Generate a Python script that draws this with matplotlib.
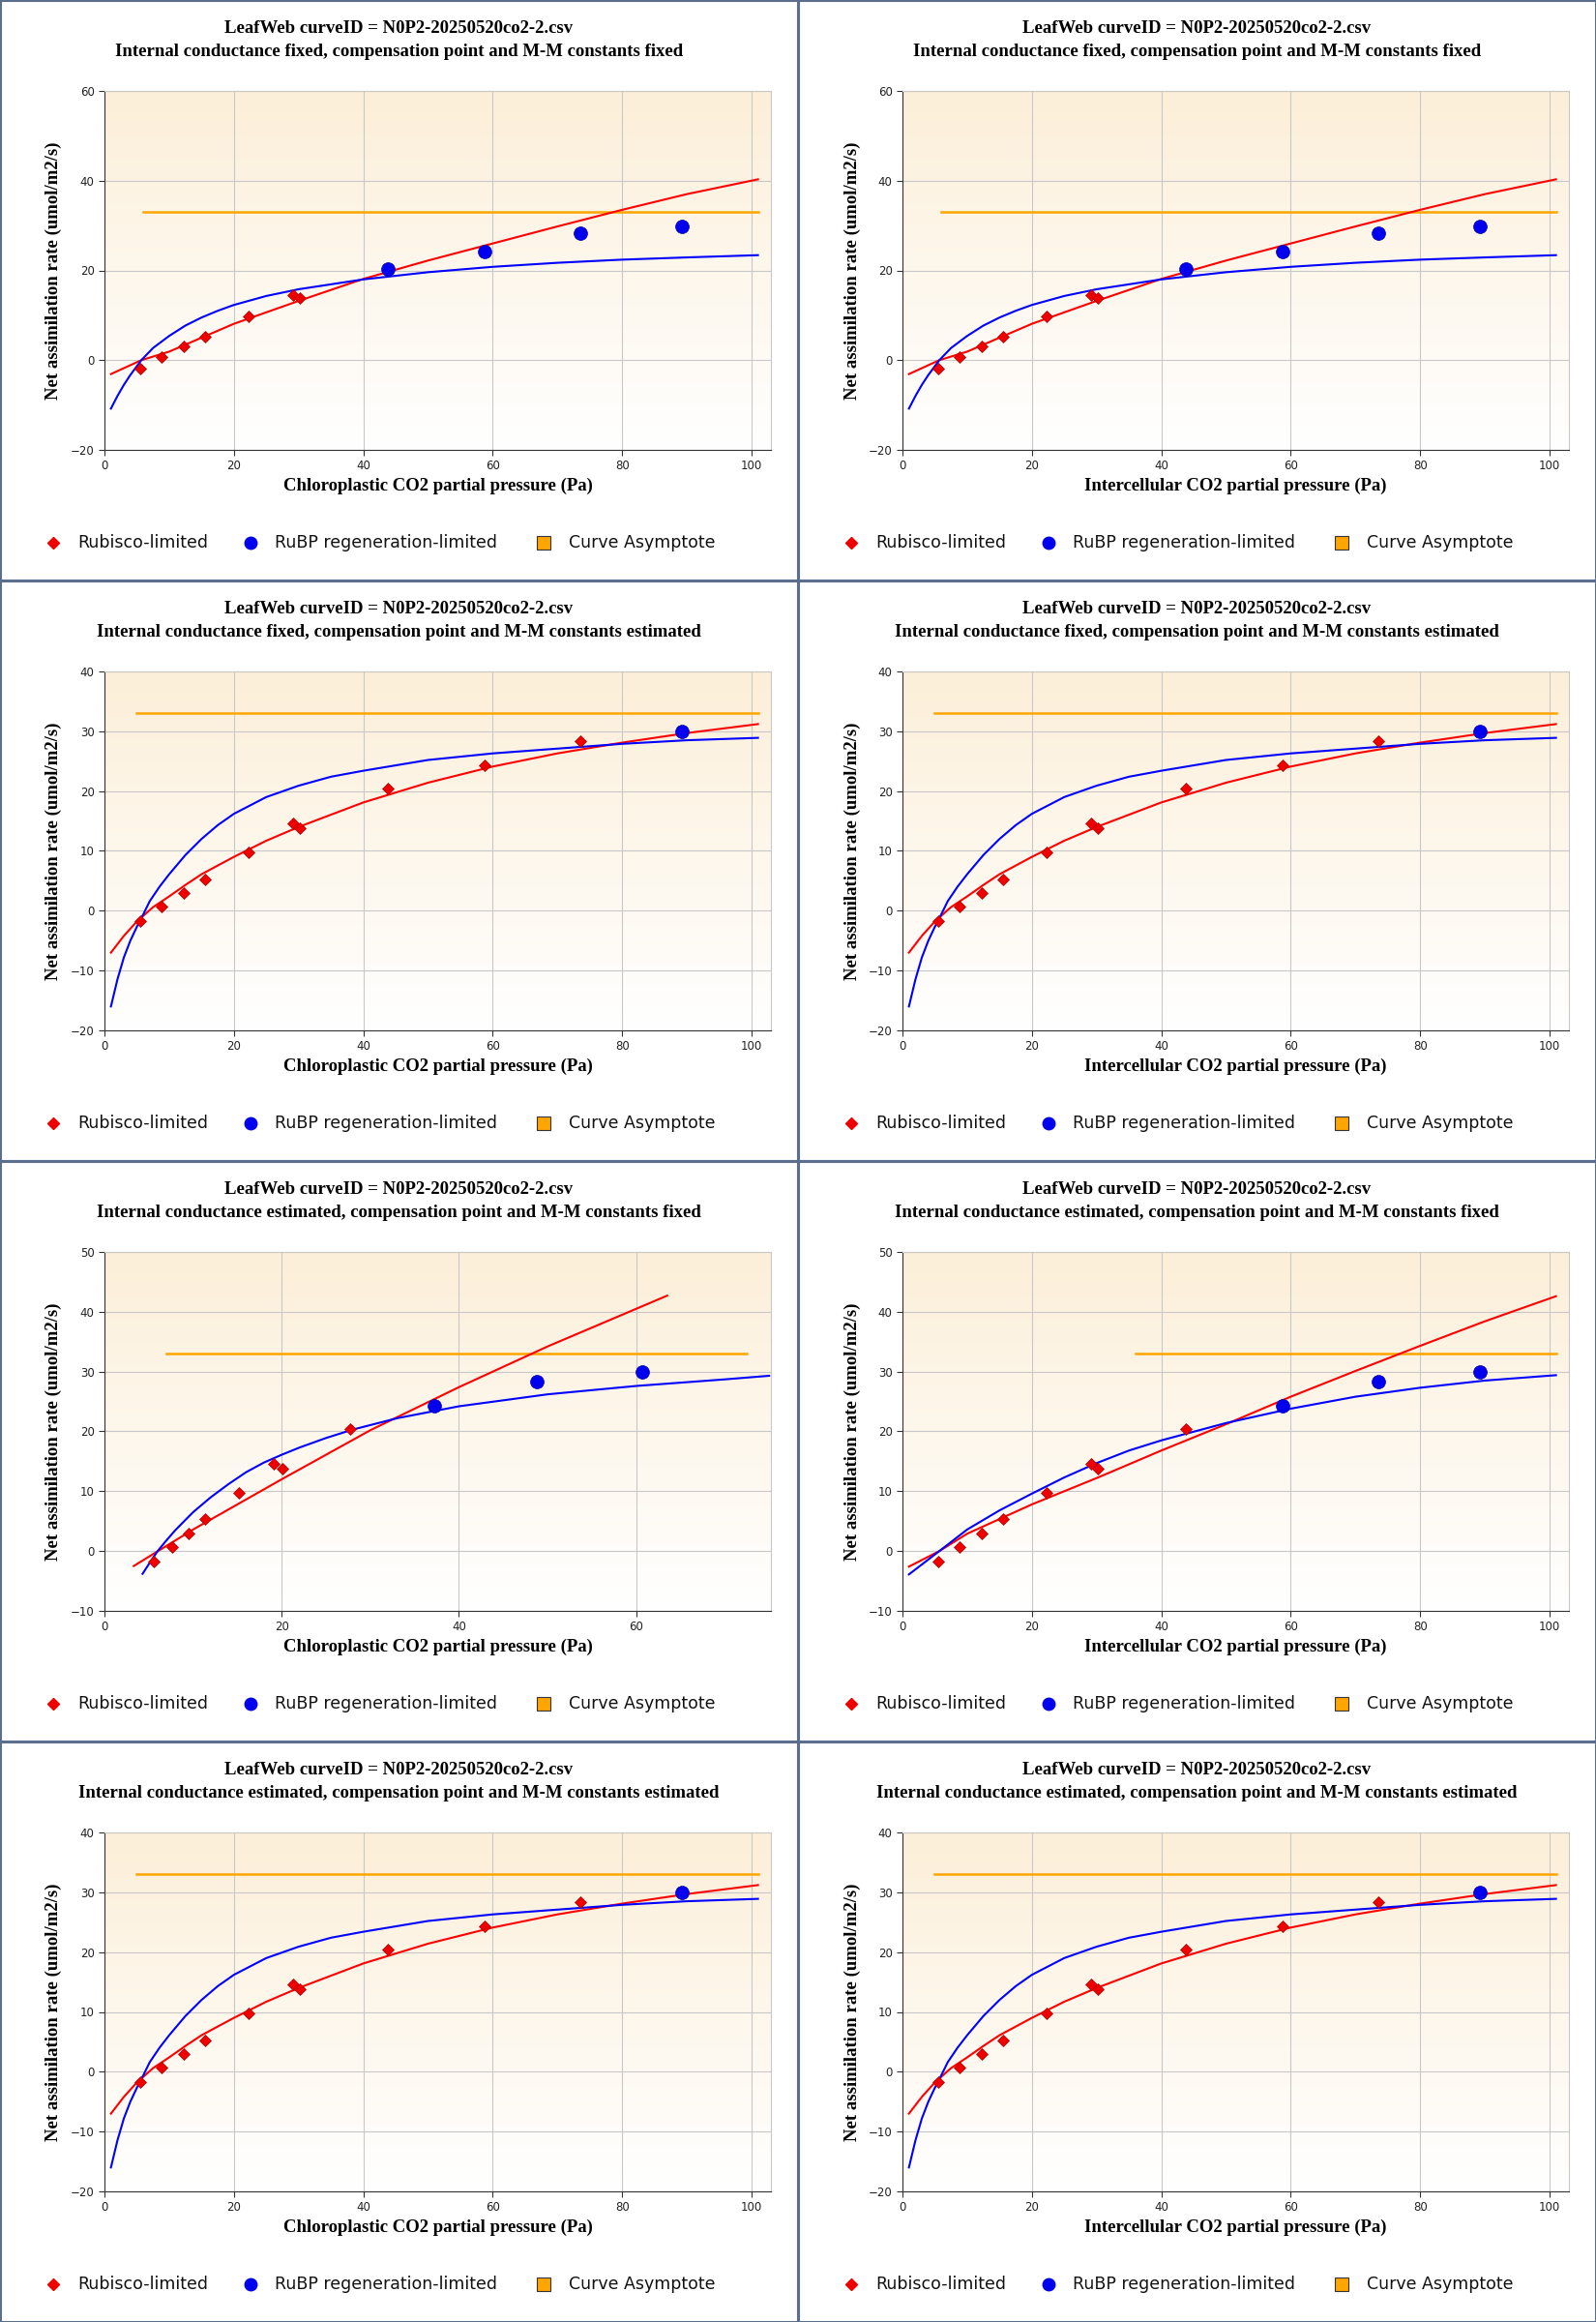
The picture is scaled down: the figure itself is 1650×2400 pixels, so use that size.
import numpy as np
import matplotlib.pyplot as plt
from matplotlib.patches import Rectangle
from matplotlib.colors import LinearSegmentedColormap

# ---- data ----
title_top = 'LeafWeb curveID = N0P2-20250520co2-2.csv'
subtitles = [
    'Internal conductance fixed, compensation point and M-M constants fixed',
    'Internal conductance fixed, compensation point and M-M constants estimated',
    'Internal conductance estimated, compensation point and M-M constants fixed',
    'Internal conductance estimated, compensation point and M-M constants estimated',
]
xlabels = ['Chloroplastic CO2 partial pressure (Pa)', 'Intercellular CO2 partial pressure (Pa)']

obs_x = [5.5, 8.8, 12.2, 15.6, 22.3, 29.1, 30.2, 43.8, 58.8, 73.5, 89.3]
obs_y = [-1.8, 0.7, 3.0, 5.3, 9.8, 14.6, 13.8, 20.4, 24.3, 28.3, 29.9]
# chloroplastic pressures when internal conductance is estimated
obs_x_cc = [5.6, 7.6, 9.5, 11.4, 15.2, 19.1, 20.1, 27.7, 37.2, 48.8, 60.7]

asymptote = 33.0

# fit set A: gm fixed, constants fixed
a_rub_x = [1, 5.7, 10, 20, 30, 40, 50, 60, 70, 80, 90, 101]
a_rub_y = [-3.1, 0, 1.9, 8.1, 13.2, 18.1, 22.2, 26.0, 29.8, 33.5, 37.0, 40.3]
a_rjb_x = [1, 2, 3, 4, 5.7, 7.5, 10, 12.5, 15, 17.5, 20, 25, 30, 40, 50, 60, 70, 80, 90, 101]
a_rjb_y = [-10.8, -8.0, -5.5, -3.3, 0, 2.7, 5.4, 7.7, 9.5, 11.0, 12.3, 14.3, 15.8, 18.0,
           19.6, 20.8, 21.7, 22.4, 22.9, 23.4]
# fit set B: constants estimated
b_rub_x = [1, 3, 5, 7.5, 10, 12.5, 15, 20, 25, 30, 40, 50, 60, 70, 80, 90, 101]
b_rub_y = [-7.0, -4.2, -1.8, 0.6, 2.4, 4.3, 6.1, 9.0, 11.7, 14.0, 18.1, 21.4, 24.1, 26.3,
           28.1, 29.7, 31.2]
b_rjb_x = [1, 2, 3, 4, 5, 6, 7, 8.5, 10, 12.5, 15, 17.5, 20, 25, 30, 35, 40, 50, 60, 70,
           80, 90, 101]
b_rjb_y = [-16.0, -11.5, -7.8, -5.0, -2.7, -0.6, 1.6, 4.0, 6.1, 9.3, 12.0, 14.3, 16.2, 19.0,
           20.9, 22.4, 23.4, 25.2, 26.3, 27.1, 27.9, 28.5, 28.9]
# fit set C: gm estimated, constants fixed, chloroplastic axis
c_rub_x = [3.3, 10, 20, 30, 40, 50, 63.5]
c_rub_y = [-2.5, 3.6, 12.0, 20.2, 27.4, 34.2, 42.7]
c_rjb_x = [4.3, 5, 6, 7, 8, 10, 12, 14, 16, 18, 20, 22, 25, 28, 33, 40, 50, 60, 70, 75]
c_rjb_y = [-3.8, -2.2, 0, 1.8, 3.5, 6.5, 9.0, 11.2, 13.2, 14.8, 16.1, 17.3, 18.9, 20.3,
           22.2, 24.2, 26.2, 27.6, 28.7, 29.3]
# fit set D: gm estimated, constants fixed, intercellular axis
d_rub_x = [1, 5.7, 10, 20, 30, 40, 50, 60, 70, 80, 90, 101]
d_rub_y = [-2.6, 0, 2.9, 7.8, 12.2, 16.8, 21.2, 25.8, 30.1, 34.3, 38.4, 42.6]
d_rjb_x = [1, 5.7, 10, 15, 20, 25, 30, 35, 40, 50, 60, 70, 80, 90, 101]
d_rjb_y = [-3.9, 0, 3.6, 6.8, 9.6, 12.3, 14.7, 16.8, 18.5, 21.4, 23.8, 25.8, 27.3, 28.5, 29.4]

# (subtitle, xlabel, obs x, n rubisco pts, rub curve, rjb curve, asym range, xlim, ylim, ystep)
panels = [
    (0, 0, obs_x, 7, (a_rub_x, a_rub_y), (a_rjb_x, a_rjb_y), (6, 101), (0, 103), (-20, 60), 20),
    (0, 1, obs_x, 7, (a_rub_x, a_rub_y), (a_rjb_x, a_rjb_y), (6, 101), (0, 103), (-20, 60), 20),
    (1, 0, obs_x, 10, (b_rub_x, b_rub_y), (b_rjb_x, b_rjb_y), (5, 101), (0, 103), (-20, 40), 10),
    (1, 1, obs_x, 10, (b_rub_x, b_rub_y), (b_rjb_x, b_rjb_y), (5, 101), (0, 103), (-20, 40), 10),
    (2, 0, obs_x_cc, 8, (c_rub_x, c_rub_y), (c_rjb_x, c_rjb_y), (7, 72.5), (0, 75.2), (-10, 50), 10),
    (2, 1, obs_x, 8, (d_rub_x, d_rub_y), (d_rjb_x, d_rjb_y), (36, 101), (0, 103), (-10, 50), 10),
    (3, 0, obs_x, 10, (b_rub_x, b_rub_y), (b_rjb_x, b_rjb_y), (5, 101), (0, 103), (-20, 40), 10),
    (3, 1, obs_x, 10, (b_rub_x, b_rub_y), (b_rjb_x, b_rjb_y), (5, 101), (0, 103), (-20, 40), 10),
]

W, H = 1650, 2400
PW, PH = 825, 600
fig = plt.figure(figsize=(W / 100, H / 100), dpi=100)
fig.patch.set_facecolor('white')

serif = 'Liberation Serif'
bg = LinearSegmentedColormap.from_list('bg', ['#ffffff', '#fcefd9'])
grad = np.linspace(0, 1, 256).reshape(-1, 1)

for i, (si, xi, px, nr, rub, rjb, arange, xlim, ylim, ystep) in enumerate(panels):
    col, row = i % 2, i // 2
    x0, y0 = col * PW, H - (row + 1) * PH  # pixel origin of panel (bottom-left)

    fig.add_artist(Rectangle((x0 / W, y0 / H), PW / W, PH / H, transform=fig.transFigure,
                             facecolor='none', edgecolor='#5b6e8e', lw=2.2, zorder=10))

    ax = fig.add_axes([(x0 + 108) / W, (y0 + 135) / H, 689 / W, 371 / H])
    ax.imshow(grad, aspect='auto', cmap=bg, origin='lower',
              extent=[xlim[0], xlim[1], ylim[0], ylim[1]], zorder=0)
    ax.set_xlim(*xlim)
    ax.set_ylim(*ylim)
    ax.set_xticks(np.arange(0, xlim[1] + 0.1, 20))
    ax.set_yticks(np.arange(ylim[0], ylim[1] + 0.1, ystep))
    ax.grid(True, color='#c8c8c8', lw=0.8, zorder=1)
    for s in ['top', 'right']:
        ax.spines[s].set_color('#c8c8c8')
    for s in ['left', 'bottom']:
        ax.spines[s].set_color('#333333')
    ax.tick_params(labelsize=8.5, length=4, color='#333333', labelcolor='#222222')

    ax.plot([arange[0], arange[1]], [asymptote, asymptote], color='#ffa500', lw=1.8, zorder=3)
    ax.plot(rub[0], rub[1], color='#ff0000', lw=1.5, zorder=4)
    ax.plot(rjb[0], rjb[1], color='#0000ff', lw=1.5, zorder=4)
    ax.plot(px[:nr], obs_y[:nr], 'D', color='#ee0000', ms=6, mec='#b00000', mew=0.5, zorder=5)
    ax.plot(px[nr:], obs_y[nr:], 'o', color='#0000ee', ms=10, mec='#0000b0', mew=0.5, zorder=5)

    ax.set_xlabel(xlabels[xi], family=serif, weight='bold', fontsize=13.5, labelpad=4)
    ax.set_ylabel('Net assimilation rate (umol/m2/s)', family=serif, weight='bold',
                  fontsize=13.5, labelpad=6)

    cx = (x0 + PW / 2) / W
    fig.text(cx, (y0 + PH - 30) / H, title_top, ha='center', va='center',
             family=serif, weight='bold', fontsize=13.5)
    fig.text(cx, (y0 + PH - 53) / H, subtitles[si], ha='center', va='center',
             family=serif, weight='bold', fontsize=13.5)

    # legend row
    ly = (y0 + PH - 561) / H
    fig.lines.append(plt.Line2D([(x0 + 55) / W], [ly], marker='D', color='#ee0000', ms=6,
                                transform=fig.transFigure))
    fig.lines.append(plt.Line2D([(x0 + 259) / W], [ly], marker='o', color='#0000ee', ms=9,
                                transform=fig.transFigure))
    fig.lines.append(plt.Line2D([(x0 + 562) / W], [ly], marker='s', color='#ffa500', ms=10,
                                mec='#333333', mew=0.8, transform=fig.transFigure))
    for tx, lab in [(80, 'Rubisco-limited'), (284, 'RuBP regeneration-limited'),
                    (588, 'Curve Asymptote')]:
        fig.text((x0 + tx) / W, ly, lab, ha='left', va='center', fontsize=12.5,
                 family='DejaVu Sans', color='#111111')

fig.savefig('out.png', dpi=100)
